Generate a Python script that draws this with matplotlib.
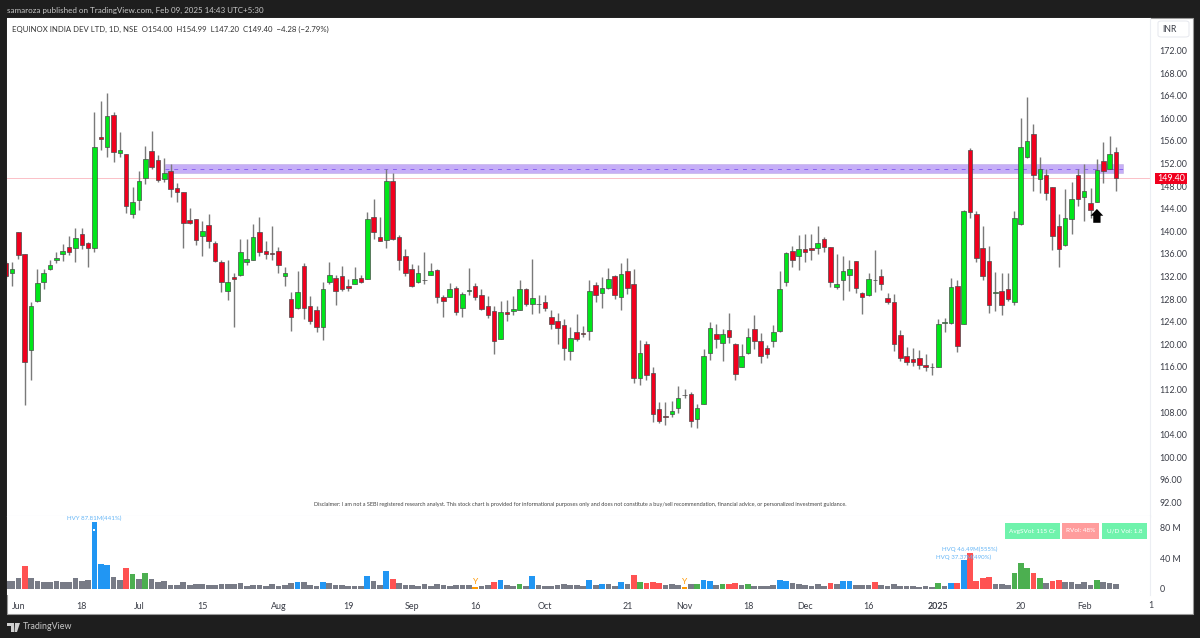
import numpy as np
import matplotlib
matplotlib.use('Agg')
from matplotlib import pyplot as plt
from matplotlib.patches import Rectangle, Polygon, FancyArrow, FancyBboxPatch

plt.rcParams['font.family'] = ['Lato', 'DejaVu Sans']

# daily candles, the first one is cut by the left edge of the chart
first_bar = -1
opens = [134.4,132.6,139.9,136.0,119.0,127.7,131.0,133.3,134.9,136.0,
         137.2,137.0,139.6,138.0,137.0,156.7,155.0,160.6,153.9,153.7,
         143.0,145.5,149.5,154.2,152.6,149.2,150.7,147.7,147.0,142.0,
         142.1,139.2,141.1,138.0,134.6,129.5,131.9,132.3,134.5,135.0,
         139.8,136.5,136.2,136.5,132.0,128.0,126.4,133.8,126.8,126.1,
         123.0,131.0,131.8,132.0,130.3,130.7,131.7,131.6,142.5,139.0,
         138.4,148.9,138.9,135.6,133.3,131.0,131.3,132.3,133.1,128.3,
         128.3,129.9,126.4,129.4,130.3,128.7,126.7,125.8,121.0,125.7,
         125.8,126.1,129.7,127.1,127.1,127.5,124.8,124.1,123.4,118.8,
         122.2,122.0,122.3,130.5,129.1,129.9,132.0,128.3,133.0,130.7,
         114.0,120.0,115.0,108.5,107.3,107.7,108.7,111.1,111.2,106.8,
         109.5,118.4,121.9,120.3,122.5,120.0,116.0,118.4,122.7,120.5,
         119.3,120.6,122.3,131.1,136.5,135.6,136.9,137.0,137.0,138.6,
         137.2,130.2,131.3,132.2,134.7,129.1,128.8,131.3,132.0,128.1,
         127.5,121.6,118.0,117.4,117.5,116.3,116.0,116.0,123.8,123.7,
         130.3,123.6,154.4,143.0,137.0,134.8,129.0,129.5,129.7,127.4,
         141.2,153.1,157.2,149.3,149.9,147.8,141.0,137.5,142.1,149.9,
         146.0,145.0,145.1,152.5,151.1,154.00]
highs = [134.8,134.6,139.9,136.0,127.4,133.4,133.3,134.9,136.3,137.8,
         139.2,140.5,140.6,138.1,161.1,163.0,164.4,161.1,157.5,153.7,
         147.8,150.7,155.1,157.8,153.5,153.0,151.9,148.5,147.0,144.2,
         142.2,141.8,143.1,138.2,135.0,134.9,132.6,138.6,138.7,141.3,
         142.6,138.3,140.9,137.2,133.7,129.3,132.9,134.4,128.5,126.8,
         131.1,134.6,132.3,133.9,131.5,133.6,132.2,143.4,145.8,142.5,
         151.0,150.4,139.3,136.9,134.2,134.0,136.3,134.3,133.4,128.8,
         130.8,130.4,129.3,133.5,130.9,129.7,128.5,126.8,127.7,127.8,
         128.5,131.3,130.0,135.1,128.7,128.8,126.1,125.5,124.5,123.0,
         125.3,123.2,131.4,131.0,131.9,133.5,132.3,134.4,135.2,133.4,
         120.7,120.6,115.9,109.8,109.8,110.0,112.6,112.0,111.5,109.4,
         119.2,123.9,123.6,122.7,125.5,120.3,120.0,122.8,125.2,122.0,
         119.9,123.4,132.9,136.4,137.4,139.3,139.6,139.6,140.9,139.0,
         137.3,135.9,135.6,135.0,134.7,129.3,132.7,136.7,133.3,129.0,
         128.9,122.5,119.5,119.3,119.0,118.2,116.6,124.5,124.7,131.8,
         131.4,143.8,154.7,143.5,140.9,137.4,132.8,132.6,132.6,143.5,
         160.1,163.7,159.0,153.2,151.1,147.8,143.1,147.5,148.8,151.0,
         151.9,147.7,152.8,155.8,156.9,154.99]
lows = [131.8,130.4,135.1,109.3,113.7,127.5,129.7,133.2,134.3,134.7,
        135.8,134.5,136.8,133.6,136.4,154.3,153.1,152.3,153.2,143.3,
        142.4,143.8,148.3,151.0,148.8,148.7,146.0,145.1,137.0,141.3,
        137.6,135.7,137.1,134.5,129.3,127.8,123.1,132.1,134.0,134.9,
        135.6,135.1,134.9,132.6,130.4,122.4,126.2,124.4,123.6,122.1,
        120.7,130.7,126.9,129.4,129.4,130.7,130.9,131.6,138.6,138.2,
        137.1,138.5,133.2,132.0,130.2,130.9,130.6,132.3,127.3,124.9,
        128.3,125.1,124.9,128.8,127.9,126.1,124.7,118.2,120.9,124.1,
        125.2,126.1,126.7,125.4,125.5,125.8,122.7,120.1,117.3,117.2,
        120.6,121.2,120.8,127.5,126.4,129.7,128.0,126.0,128.9,113.1,
        112.8,113.7,106.2,106.1,105.7,107.2,107.9,110.4,105.4,105.2,
        109.4,117.2,119.3,117.1,120.3,113.6,115.9,118.2,119.1,116.6,
        117.6,119.6,122.2,130.4,133.6,133.1,134.6,134.9,135.9,136.4,
        130.2,129.8,127.9,129.4,129.1,125.3,128.6,129.2,129.6,127.2,
        118.8,117.1,116.4,116.1,115.7,115.2,114.5,116.0,122.2,123.6,
        118.7,123.5,142.4,134.5,131.4,125.6,125.8,125.1,127.6,126.9,
        141.1,153.0,147.2,146.7,145.5,136.6,133.6,137.4,139.6,144.5,
        141.9,142.3,145.1,148.6,151.0,147.20]
closes = [132.1,133.3,135.8,116.8,126.8,130.8,132.6,134.1,135.3,136.5,
          136.4,138.8,137.5,137.0,154.9,156.4,160.4,154.0,154.3,144.5,
          145.1,148.9,152.8,151.3,149.0,150.3,147.5,147.0,141.4,141.5,
          138.5,140.1,138.2,134.7,131.0,131.0,131.6,136.3,135.1,139.0,
          136.3,136.0,135.9,134.1,132.6,124.8,129.2,126.4,124.1,123.0,
          129.7,132.2,129.4,129.8,129.9,131.6,131.1,142.1,139.8,138.3,
          148.9,138.7,135.0,132.7,130.4,132.6,131.4,132.9,128.3,127.7,
          129.7,125.7,128.9,129.6,128.3,126.3,125.1,120.5,125.7,125.4,
          126.2,129.7,127.2,128.1,127.2,126.5,123.6,122.8,119.4,121.1,
          121.0,121.8,129.4,128.8,129.9,131.6,128.8,132.4,129.9,114.0,
          118.4,114.6,107.7,106.5,107.2,108.1,110.4,111.0,106.4,108.7,
          118.0,122.8,120.9,121.9,121.3,114.8,118.0,121.2,120.6,118.0,
          118.3,122.1,129.7,136.1,135.0,136.9,136.3,136.7,138.0,137.2,
          131.1,130.7,132.9,133.3,130.0,128.4,131.6,131.4,130.7,127.5,
          120.1,117.6,116.9,116.9,116.3,116.0,115.9,123.6,123.9,130.2,
          119.7,143.5,143.4,135.2,132.1,126.9,129.3,126.9,128.0,142.4,
          154.9,156.0,150.0,151.0,146.8,139.2,136.8,142.4,145.8,145.7,
          147.1,143.8,150.9,150.6,153.68,149.40]

# volume in millions, kinds: g normal, b high, r down, n up, o dry
volumes = [10,10.7,13.8,29.3,13.8,10.7,9.3,9.3,10.2,9.3,
           9.3,14.7,10.2,11.1,87.81,32.4,30.7,15.5,11.5,27.5,
           20,13.3,20.9,13.3,9.3,10.2,5.8,4.9,8.9,4.9,
           7.1,7.1,5.8,4.9,6.2,6.2,6.2,8,4,5.8,
           4.9,4.4,7.1,4.4,4.9,7.5,8.9,8.9,4.9,4,
           8.9,8,4.9,4.9,3.6,4.4,3.6,17.3,10.7,5.8,
           23.5,13.3,7.5,5.3,4.9,4.4,7.1,4.4,6.7,5.3,
           4.4,5.8,5.3,5.8,2.7,3.6,4.9,9.3,12,5.8,
           4.4,6.7,3.6,17.3,4.9,3.6,4.4,4.9,6.2,5.3,
           5.3,3.6,12,4.9,7.1,6.7,4.4,8.9,6.7,18.7,
           8.9,8,9.3,8,4.9,6.2,5.3,2.2,6.2,7.1,
           12,10.7,5.3,7.1,6.7,8.4,5.3,7.1,4.4,4.4,
           3.6,5.8,12,10.7,7.5,6.2,5.8,4,6.7,4.4,
           7.5,7.1,10.2,10.2,4.9,5.8,4.9,8.9,4.9,4,
           6.2,4,3.6,4,2.7,3.6,2.7,7.5,3.6,8.4,
           7.5,37.37,46.49,10.2,14.7,16,7.1,7.1,5.8,20.9,
           33.8,27.1,21.3,14.2,8,10.7,11.5,8.9,8.9,7.1,
           9.3,4.9,11.5,9.3,8,6.2]
vol_kinds = ("gggrgggggg" "ggggbbbggr" "ngnggggggg" "gggggggggg" "ggggggbggg"
             "bggggggbgg" "brgggggggg" "ggggoggrbg" "gngbgggggg" "ggbgbggbgr"
             "nrrrgggogn" "bbgnrrgngg" "ggbbgggggg" "rgbbgggrgg" "gggggggngb"
             "rbrrrrgggn" "nnrngrrggg" "ggnggg")

price_ticks = list(range(92, 176, 4))
vol_ticks = [0, 40, 80]
vol_tick_labels = ['0', '40 M', '80 M']
date_ticks = [1, 11, 20, 30, 42, 53, 63, 73, 84, 97, 106, 116, 125, 135, 146, 159, 169]
date_labels = ['Jun', '18', 'Jul', '15', 'Aug', '19', 'Sep', '16', 'Oct', '21', 'Nov',
               '18', 'Dec', '16', '2025', '20', 'Feb']

last_price = 149.40
zone_low, zone_high = 150.3, 151.85
zone_mid = 151.08
zone_start, zone_end = 24.1, 175.1

W, H = 1200, 638
BG = '#1e1e1e'
UP = '#00e61a'
DOWN = '#f0001e'
TXT = '#3a3d47'
vol_colors = {'g': '#787b86', 'b': '#2196f3', 'r': '#ff5252', 'n': '#4caf50', 'o': '#ff9800'}


def box(left, top, right, bottom):
    return [left/W, 1-bottom/H, (right-left)/W, (bottom-top)/H]


def fig_text(x, y, s, **kw):
    kw.setdefault('va', 'center')
    return fig.text(x/W, 1-y/H, s, **kw)


def fig_rect(left, top, right, bottom, **kw):
    fig.patches.append(Rectangle((left/W, 1-bottom/H), (right-left)/W, (bottom-top)/H,
                                 transform=fig.transFigure, figure=fig, **kw))


fig = plt.figure(figsize=(12, 6.38), dpi=100, facecolor=BG)
fig_rect(7, 18, 1193, 614, facecolor='white', edgecolor='#9a9a9a', lw=0.8, zorder=-1)

ax = fig.add_axes(box(7, 18, 1150, 516))
vol = fig.add_axes(box(7, 516, 1150, 595), sharex=ax)
for a in (ax, vol):
    a.set_facecolor('white')
    for side in a.spines:
        a.spines[side].set_visible(False)
ax.spines['right'].set_visible(True)
ax.spines['right'].set_color('#eceef3')
ax.spines['bottom'].set_visible(True)
ax.spines['bottom'].set_color('#e6e8ee')
vol.spines['right'].set_visible(True)
vol.spines['right'].set_color('#eceef3')

x = np.arange(first_bar, first_bar+len(opens))
o, h, l, c = map(np.array, (opens, highs, lows, closes))
colors = [UP if cc >= oo else DOWN for oo, cc in zip(o, c)]

# zone goes under the candles
ax.add_patch(Rectangle((zone_start, zone_low), zone_end-zone_start, zone_high-zone_low,
                       facecolor='#8e5ff0', alpha=0.5, edgecolor='#b39ddb', lw=0.6, zorder=1))
ax.plot([zone_start, zone_end], [zone_mid, zone_mid], color='#8a63f0', lw=0.7,
        dashes=(4, 5), zorder=1.5)
ax.axhline(last_price, color='#f0001e', lw=0.7, alpha=0.25, zorder=1.5)

ax.vlines(x, l, h, color='#7a7a7a', lw=1.0, zorder=2)
ax.bar(x, np.maximum(np.abs(c-o), 0.08), bottom=np.minimum(o, c), width=0.72, color=colors,
       edgecolor='#4a4a4a', linewidth=0.5, zorder=3)

ax.add_patch(FancyArrow(171, 141.5, 0, 2.45, width=1.15, head_width=2.0, head_length=1.2,
                        length_includes_head=True, color='black', lw=0, zorder=4))

ax.set_xlim(-0.79, 179.37)
ax.set_ylim(89.6, 177.75)
ax.yaxis.tick_right()
ax.set_yticks(price_ticks)
ax.set_yticklabels(['%.2f' % p for p in price_ticks], fontsize=6.4, color=TXT)
ax.tick_params(axis='y', length=0, pad=7)
ax.tick_params(axis='x', length=0, labelbottom=False)

vol.bar(x, volumes, width=0.9, color=[vol_colors[k] for k in vol_kinds], linewidth=0)
vol.set_ylim(-7.9, 95.2)
vol.yaxis.tick_right()
vol.set_yticks(vol_ticks)
vol.set_yticklabels(vol_tick_labels, fontsize=6.4, color=TXT)
vol.tick_params(axis='y', length=0, pad=7)
vol.set_xticks(date_ticks)
vol.set_xticklabels(date_labels, fontsize=6.4, color=TXT)
vol.tick_params(axis='x', length=0, pad=5)
for lab in vol.get_xticklabels():
    if lab.get_text() == '2025':
        lab.set_fontweight('bold')

# tick after the right edge, the axis would drop it
fig_text(1151, 605, '1', fontsize=6.4, color=TXT, ha='center')

# labels on the volume bars
vol.text(13, 91.9, 'HVY 87.81M(441%)', fontsize=4.4, color='#64b5f6', ha='center', va='center')
vol.plot([13], [77], marker='s', ms=1.9, color='white', mew=0)
vol.text(151, 51.6, 'HVQ 46.49M(555%)', fontsize=4.4, color='#64b5f6', ha='center', va='center')
vol.text(150, 41.7, 'HVQ 37.37M(490%)', fontsize=4.4, color='#64b5f6', ha='center', va='center')
for k in (73, 106):
    vol.text(k, 5, 'Y', fontsize=6, color='#ff9800', ha='center', va='bottom')

for left, right, s, col in [(1005, 1060, 'AvgSVol: 115 Cr', '#6ff3ac'),
                            (1062, 1099, 'RVol: 48%', '#ff9c9c'),
                            (1102, 1147, 'U/D Vol: 1.8', '#6ff3ac')]:
    fig_rect(left, 523, right, 539, facecolor=col, edgecolor='none', zorder=5)
    fig_text((left+right)/2, 531, s, fontsize=4.6, color='white', ha='center', zorder=6)

# last price tag
fig_rect(1155, 173, 1187, 184, facecolor='#f0001e', edgecolor='none', zorder=5)
fig_text(1171, 178.3, '149.40', fontsize=6.4, color='white', ha='center', zorder=6)

fig.patches.append(FancyBboxPatch((1158/W, 1-37/H), 31/W, 16/H, boxstyle='round,pad=0,rounding_size=0.003',
                                  transform=fig.transFigure, facecolor='white', edgecolor='#e6e8ee',
                                  lw=0.7, figure=fig, zorder=5))
fig_text(1169, 29, 'INR', fontsize=6.2, color=TXT, ha='center', zorder=6)

fig_text(7, 10.5, 'samaroza published on TradingView.com, Feb 09, 2025 14:43 UTC+5:30',
         fontsize=5.8, color='#c8c8c8')
fig_text(12, 29, 'EQUINOX INDIA DEV LTD, 1D, NSE  O154.00  H154.99  L147.20  C149.40  \u22124.28 (\u22122.79%)',
         fontsize=5.55, color='#333333')
fig_text(580, 504.5, 'Disclaimer: I am not a SEBI registered research analyst. This stock chart is provided '
         'for informational purposes only and does not constitute a buy/sell recommendation, financial advice, '
         'or personalized investment guidance.', fontsize=4.0, color='#444444', ha='center')

# footer logo
for pts in ([(7, 623), (14, 623), (14, 632), (11, 632), (11, 626), (7, 626)],
            [(15, 623), (20, 623), (17, 632), (14.5, 632)]):
    fig.patches.append(Polygon([(px/W, 1-py/H) for px, py in pts], transform=fig.transFigure,
                               facecolor='#d0d0d0', edgecolor='none', figure=fig))
fig_text(23, 626.5, 'TradingView', fontsize=6.4, color='#c8c8c8')

plt.savefig('out.png', dpi=100, facecolor=fig.get_facecolor())
